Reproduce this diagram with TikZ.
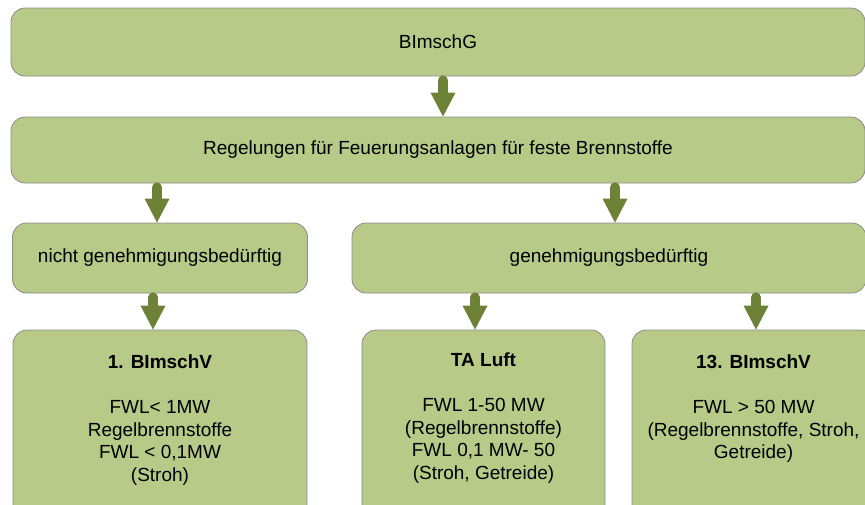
\documentclass[tikz,border=0pt]{standalone}
\usepackage{fontspec}
\setmainfont{Liberation Sans}
\usetikzlibrary{arrows.meta,calc}

\definecolor{boxgreen}{RGB}{183,202,136}
\definecolor{pfeilgreen}{RGB}{110,130,55}
\definecolor{randgrau}{RGB}{140,140,140}

\begin{document}
\begin{tikzpicture}[x=1pt, y=-1pt, line width=0.8pt,
        kasten/.style={draw=randgrau, fill=boxgreen, rounded corners=14pt, inner sep=0pt},
        txt/.style={font=\fontsize{19}{22.5}\selectfont, align=center, inner sep=0pt},
        pfeil/.style={draw=pfeilgreen, line width=10pt, line cap=round,
            -{Triangle[width=25pt, length=24pt, line width=0pt]}}]

    \useasboundingbox (0,0) rectangle (865,504);
    \clip (0,0) rectangle (865,504);

    % --- obere Ebenen: Gesetz und Regelungen ---
    \node[kasten, txt, minimum width=854pt, minimum height=68pt] (gesetz) at (438,42) {BImschG};
    \node[kasten, txt, minimum width=854pt, minimum height=66pt] (regeln) at (438,150)
        {Regelungen für Feuerungsanlagen für feste Brennstoffe};

    % --- mittlere Ebene: Genehmigung ---
    \node[kasten, txt, minimum width=295pt, minimum height=70pt] (nicht) at (160,258)
        {nicht genehmigungsbedürftig};
    \node[kasten, txt, minimum width=514pt, minimum height=70pt] (genehm) at (609,258)
        {genehmigungsbedürftig};

    % --- untere Ebene: Verordnungen (unten abgeschnitten) ---
    \node[kasten, minimum width=294pt, minimum height=190pt] (bimschv1) at (160,425) {};
    \node[kasten, minimum width=243pt, minimum height=190pt] (taluft) at (483.5,425) {};
    \node[kasten, minimum width=243pt, minimum height=190pt] (bimschv13) at (753.5,425) {};

    \node[txt, anchor=north] (t1) at ($(bimschv1.north)+(0,25)$)
        {\textbf{1. BImschV}\\[22.5pt] FWL< 1MW\\ Regelbrennstoffe\\ FWL < 0,1MW\\ (Stroh)};
    \node[txt, anchor=north] (t2) at ($(taluft.north)+(0,23)$)
        {\textbf{TA Luft}\\[22.5pt] FWL 1-50 MW\\ (Regelbrennstoffe)\\ FWL 0,1 MW- 50\\ (Stroh, Getreide)};
    \node[txt, anchor=north] (t3) at ($(bimschv13.north)+(0,25)$)
        {\textbf{13. BImschV}\\[22.5pt] FWL > 50 MW\\ (Regelbrennstoffe, Stroh,\\ Getreide)};

    % --- Blockpfeile ---
    \foreach \a/\b/\dx in {gesetz/regeln/5, regeln/nicht/-3, regeln/genehm/6,
            nicht/bimschv1/-7, genehm/taluft/-8.5, genehm/bimschv13/2.5} {
        \coordinate (ziel) at ($(\b.north)+(\dx,0)$);
        \draw[pfeil] ($(ziel |- \a.south)+(0,4)$) -- (ziel);
    }

\end{tikzpicture}
\end{document}
